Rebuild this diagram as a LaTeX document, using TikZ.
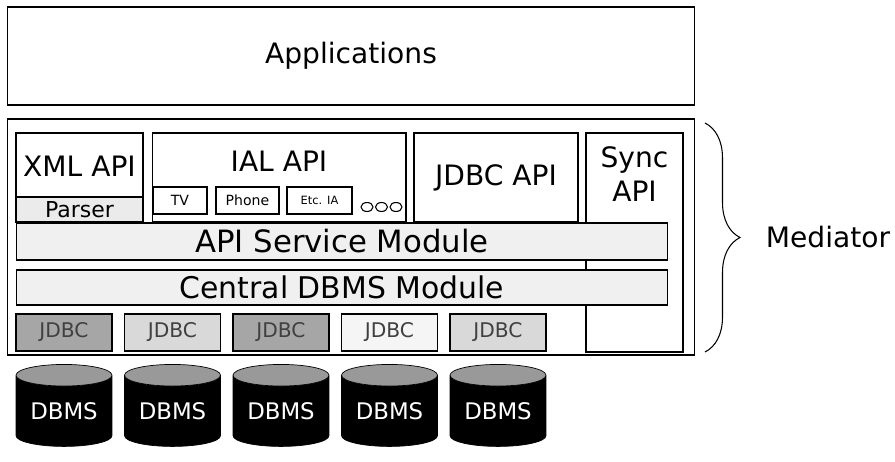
\documentclass[tikz,border=0pt]{standalone}
\usepackage{xcolor}
\usepackage{fontspec}
\setmainfont{DejaVu Sans}
\usepackage{tikz}
\usetikzlibrary{shapes.geometric,decorations.pathreplacing}

\begin{document}
\begin{tikzpicture}[
			x=0.02cm, y=-0.02cm,
			every node/.style={inner sep=0pt, font=\fontsize{16}{19}\selectfont},
			box/.style={draw, line width=0.6pt, rectangle},
			band/.style={box, fill=black!6},
			small/.style={box, minimum height=0.54cm, font=\fontsize{8}{10}\selectfont},
			jdbcbox/.style={box, minimum width=1.92cm, minimum height=0.74cm,
				font=\fontsize{11.5}{13}\selectfont, text=black!75},
			db/.style={cylinder, shape border rotate=90, aspect=0.32, draw,
				cylinder uses custom fill, cylinder body fill=black, cylinder end fill=black!40,
				minimum width=1.92cm, minimum height=1.64cm, text=white,
				font=\fontsize{13}{15}\selectfont}
			]
			\useasboundingbox (0,0) rectangle (895,462);
			
			% top layer
			\node[box, minimum width=13.76cm, minimum height=1.96cm] (apps) at (351,56) {Applications};
			
			% mediator frame
			\node[box, minimum width=13.76cm, minimum height=4.72cm] (med) at (351,237) {};
			
			% API row
			\node[box, minimum width=2.54cm, minimum height=1.78cm] (xml) at (79.5,177.5) {};
			\node (xmltxt) at (79.5,166) {XML API};
			\node[box, fill=black!8, minimum width=2.54cm, minimum height=0.5cm,
				font=\fontsize{12.5}{14}\selectfont] (parser) at (79.5,209.5) {Parser};
			
			\node[box, minimum width=5.08cm, minimum height=1.78cm] (ial) at (279,177.5) {};
			\node (ialtxt) at (279,161) {IAL API};
			\node[small, minimum width=1.08cm] (tv) at (180,200.5) {TV};
			\node[small, minimum width=1.26cm] (phone) at (247.5,200.5) {Phone};
			\node[small, minimum width=1.3cm, font=\fontsize{6.5}{8}\selectfont] (etc) at (319.5,200.5) {Etc. IA};
			\foreach \cx in {367,381.5,396}
				\draw[line width=0.6pt] (\cx,207) ellipse (0.12cm and 0.09cm);
			
			\node[box, minimum width=3.28cm, minimum height=1.78cm] (jdbcapi) at (496,177.5) {JDBC API};
			\node[box, minimum width=1.94cm, minimum height=4.38cm] (sync) at (634.5,242.5) {};
			\node[align=center] (synctxt) at (634.5,174) {Sync\\API};
			
			% service layers
			\node[band, minimum width=13.04cm, minimum height=0.74cm,
				font=\fontsize{17.5}{20}\selectfont] (svc) at (342,241.5) {API Service Module};
			\node[band, minimum width=13.04cm, minimum height=0.7cm,
				font=\fontsize{17}{20}\selectfont] (central) at (342,287.5) {Central DBMS Module};
			
			% drivers and databases
			\foreach \i/\shade in {1/35,2/15,3/35,4/4,5/15} {
				\node[jdbcbox, fill=black!\shade] (jdbc\i) at ({64+108.5*(\i-1)},332.5) {JDBC};
				\node[db] (dbms\i) at ({64+108.5*(\i-1)},411) {DBMS};
			}
			
			% mediator brace
			\coordinate (bt) at (705,123);
			\coordinate (bb) at (705,352);
			\draw[line width=0.6pt, decorate, decoration={brace, amplitude=0.7cm}] (bt) -- (bb);
			\node (mediator) at (828,237) {Mediator};
		\end{tikzpicture}
\end{document}
